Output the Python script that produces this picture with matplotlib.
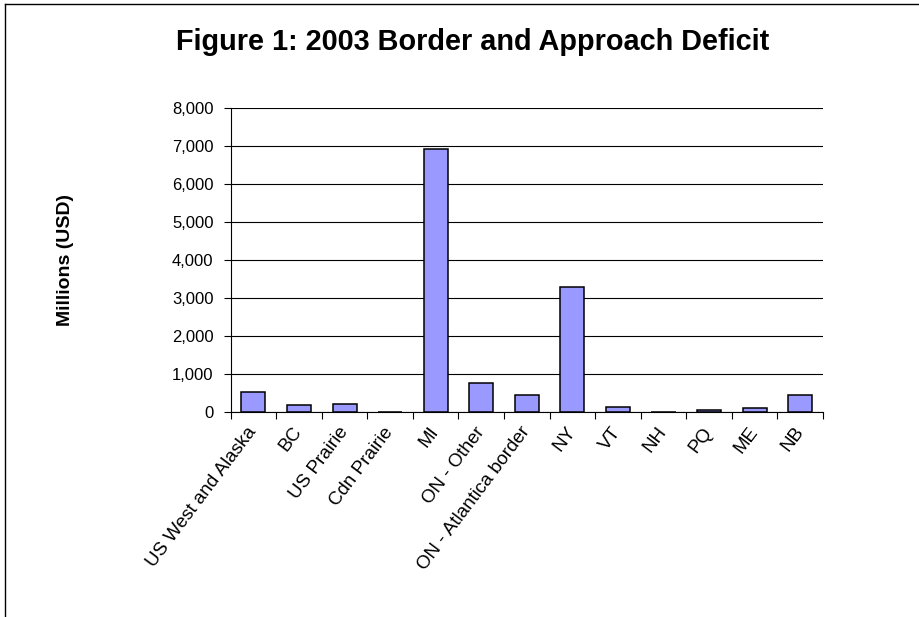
import matplotlib
matplotlib.use("Agg")
import matplotlib.pyplot as plt
from matplotlib.lines import Line2D
from matplotlib.ticker import FuncFormatter, FixedLocator

plt.rcParams['font.family'] = ['Liberation Sans', 'DejaVu Sans']

regions = ['US West and Alaska', 'BC', 'US Prairie', 'Cdn Prairie', 'MI',
           'ON - Other', 'ON - Atlantica border', 'NY', 'VT', 'NH', 'PQ',
           'ME', 'NB']
deficit = [540, 180, 230, 0, 6940, 780, 460, 3300, 150, 0, 70, 110, 460]
y_ticks = [0, 1000, 2000, 3000, 4000, 5000, 6000, 7000, 8000]

fig = plt.figure(figsize=(9.19, 6.17), dpi=100)
ax = fig.add_axes([0.251, 0.3318, 0.6445, 0.4927])

x = list(range(len(regions)))
ax.bar(x, deficit, width=0.527, color='#9999FF', edgecolor='black',
       linewidth=1.1, zorder=3)

ax.set_xlim(-0.5, len(regions) - 0.5)
ax.set_ylim(0, 8000)
ax.set_yticks(y_ticks)
ax.yaxis.set_major_formatter(FuncFormatter(lambda v, p: f'{int(v):,}'))
ax.grid(axis='y', color='black', linewidth=0.8, zorder=0)
ax.set_axisbelow(True)

# category ticks sit on the boundaries, labels at the centers
ax.xaxis.set_major_locator(FixedLocator([i - 0.5 for i in range(len(regions) + 1)]))
ax.xaxis.set_major_formatter(FuncFormatter(lambda v, p: ''))
ax.xaxis.set_minor_locator(FixedLocator(x))
ax.set_xticklabels(regions, minor=True, rotation=53, ha='right', va='center',
                   rotation_mode='anchor', fontsize=13.5)
ax.tick_params(axis='x', which='minor', length=0, pad=12)
ax.tick_params(axis='x', which='major', length=5, width=0.8, direction='out')
ax.tick_params(axis='y', length=5.3, width=0.8, direction='out', labelsize=12, pad=7)

for side in ['top', 'right']:
    ax.spines[side].set_visible(False)
ax.spines['left'].set_linewidth(0.8)
ax.spines['bottom'].set_linewidth(0.8)

fig.text(0.514, 0.919, 'Figure 1: 2003 Border and Approach Deficit',
         ha='center', va='baseline', fontsize=20.8, fontweight='bold')
fig.text(0.071, 0.579, 'Millions (USD)', rotation=90, ha='center',
         va='center', fontsize=14, fontweight='bold')

# chart area border (only top and left edges are in frame)
fig.add_artist(Line2D([0.0055, 0.0055], [0.0, 0.9935], color='black',
                      linewidth=1.0, transform=fig.transFigure))
fig.add_artist(Line2D([0.0055, 1.0], [0.9935, 0.9935], color='black',
                      linewidth=1.0, transform=fig.transFigure))

fig.savefig('out.png', dpi=100)
